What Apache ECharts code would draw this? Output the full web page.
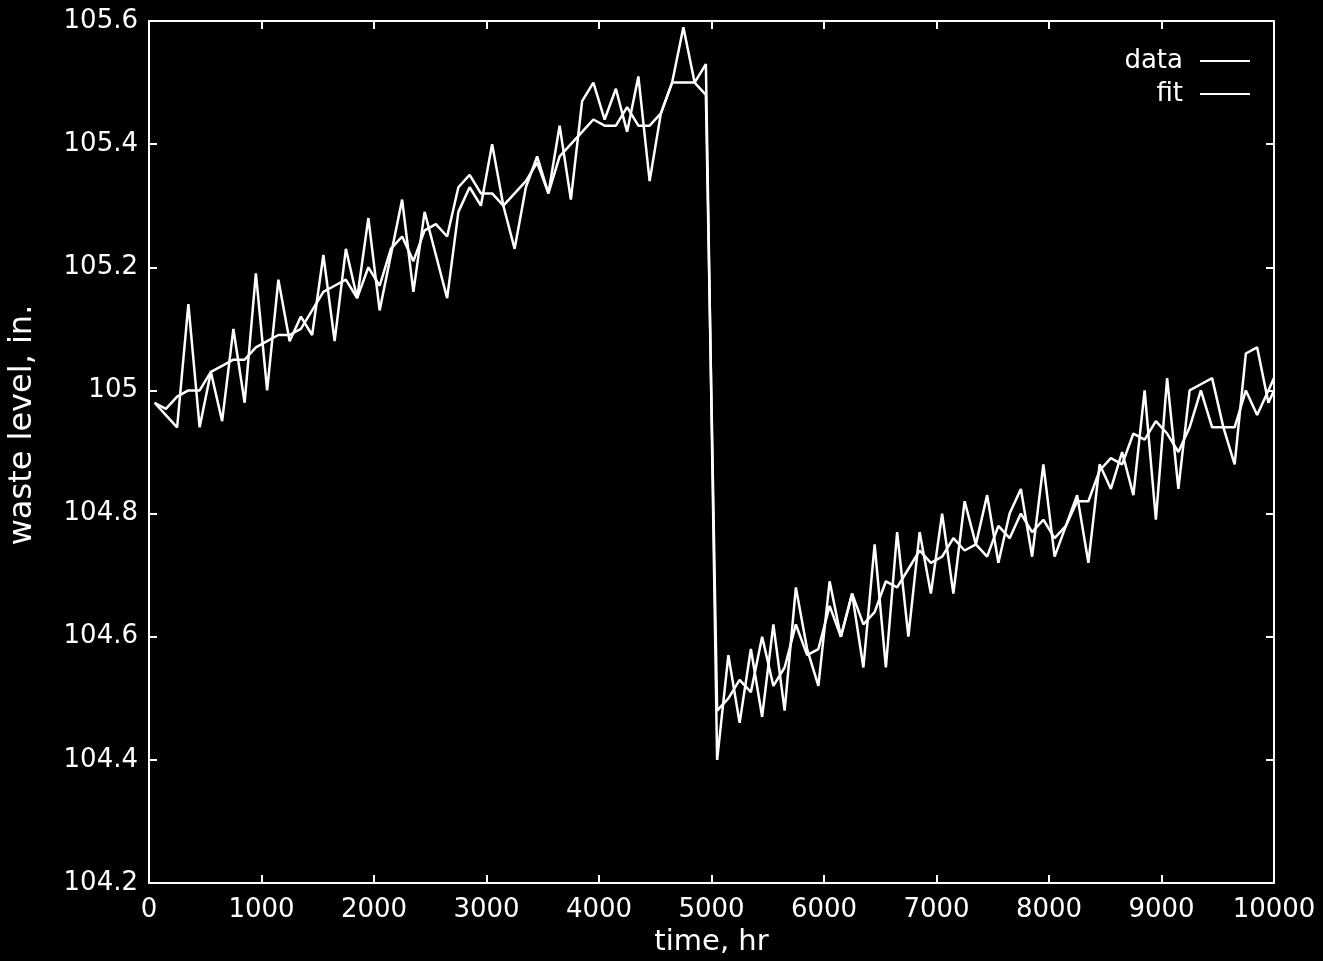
<!DOCTYPE html>
<html>
<head>
<meta charset="utf-8">
<script src="https://cdn.jsdelivr.net/npm/echarts@6/dist/echarts.min.js"></script>
<style>
html,body{margin:0;padding:0;background:#000;}
#chart{width:1323px;height:961px;}
</style>
</head>
<body>
<div id="chart"></div>
<script>
var timeHr = [50,150,250,350,450,550,650,750,850,950,1050,1150,1250,1350,1450,1550,1650,1750,1850,1950,
2050,2150,2250,2350,2450,2550,2650,2750,2850,2950,3050,3150,3250,3350,3450,3550,3650,3750,3850,3950,
4050,4150,4250,4350,4450,4550,4650,4750,4850,4950,5050,5150,5250,5350,5450,5550,5650,5750,5850,5950,
6050,6150,6250,6350,6450,6550,6650,6750,6850,6950,7050,7150,7250,7350,7450,7550,7650,7750,7850,7950,
8050,8150,8250,8350,8450,8550,8650,8750,8850,8950,9050,9150,9250,9350,9450,9550,9650,9750,9850,9950,10000];

var dataLevel = [104.98,104.96,104.94,105.14,104.94,105.03,104.95,105.10,104.98,105.19,
105.00,105.18,105.08,105.12,105.09,105.22,105.08,105.23,105.15,105.28,
105.13,105.22,105.31,105.16,105.29,105.22,105.15,105.29,105.33,105.30,
105.40,105.30,105.23,105.33,105.38,105.32,105.43,105.31,105.47,105.50,
105.44,105.49,105.42,105.51,105.34,105.45,105.50,105.59,105.50,105.53,
104.40,104.57,104.46,104.58,104.47,104.62,104.48,104.68,104.58,104.52,
104.69,104.60,104.67,104.55,104.75,104.55,104.77,104.60,104.77,104.67,
104.80,104.67,104.82,104.75,104.83,104.72,104.80,104.84,104.73,104.88,
104.73,104.78,104.83,104.72,104.88,104.84,104.90,104.83,105.00,104.79,
105.02,104.84,105.00,105.01,105.02,104.94,104.88,105.06,105.07,104.98,105.00];

var fitLevel = [104.98,104.97,104.99,105.00,105.00,105.03,105.04,105.05,105.05,105.07,
105.08,105.09,105.09,105.10,105.13,105.16,105.17,105.18,105.15,105.20,
105.17,105.23,105.25,105.21,105.26,105.27,105.25,105.33,105.35,105.32,
105.32,105.30,105.32,105.34,105.37,105.32,105.38,105.40,105.42,105.44,
105.43,105.43,105.46,105.43,105.43,105.45,105.50,105.50,105.50,105.48,
104.48,104.50,104.53,104.51,104.60,104.52,104.55,104.62,104.57,104.58,
104.65,104.60,104.67,104.62,104.64,104.69,104.68,104.71,104.74,104.72,
104.73,104.76,104.74,104.75,104.73,104.78,104.76,104.80,104.77,104.79,
104.76,104.78,104.82,104.82,104.87,104.89,104.88,104.93,104.92,104.95,
104.93,104.90,104.94,105.00,104.94,104.94,104.94,105.00,104.96,105.00,105.02];

var xTicks = {min: 0, max: 10000, interval: 1000};
var yTicks = {min: 104.2, max: 105.6, interval: 0.2};

function pairs(t, v) { return t.map(function (x, i) { return [x, v[i]]; }); }

var FONT = 'DejaVu Sans';
var chart = echarts.init(document.getElementById('chart'));
var axisCommon = {
  axisLine: {show: true, onZero: false, lineStyle: {color: '#fff', width: 2}},
  axisTick: {show: true, inside: true, length: 8, lineStyle: {color: '#fff', width: 2}},
  splitLine: {show: false}
};
chart.setOption({
  backgroundColor: '#000',
  animation: false,
  grid: {left: 149, right: 49, top: 21, bottom: 78, containLabel: false, outerBoundsMode: 'none'},
  legend: {
    orient: 'vertical', right: 68, top: 43, align: 'right',
    icon: 'rect', itemWidth: 50, itemHeight: 2, itemGap: 7,
    textStyle: {color: '#fff', fontSize: 26, fontFamily: FONT, padding: [0, 12, 0, 0]},
    data: ['data', 'fit']
  },
  xAxis: [
    Object.assign({type: 'value', position: 'bottom', min: xTicks.min, max: xTicks.max, interval: xTicks.interval,
      name: 'time, hr', nameLocation: 'middle', nameGap: 45,
      nameTextStyle: {color: '#fff', fontSize: 29, fontFamily: FONT},
      axisLabel: {color: '#fff', fontSize: 26, fontFamily: FONT, margin: 14,
        formatter: function (v) { return String(v); }}}, axisCommon),
    Object.assign({type: 'value', position: 'top', min: xTicks.min, max: xTicks.max, interval: xTicks.interval,
      axisLabel: {show: false}}, axisCommon)
  ],
  yAxis: [
    Object.assign({type: 'value', position: 'left', min: yTicks.min, max: yTicks.max, interval: yTicks.interval,
      name: 'waste level, in.', nameLocation: 'middle', nameGap: 110, nameRotate: 90,
      nameTextStyle: {color: '#fff', fontSize: 32, fontFamily: FONT, padding: [0, 0, 0, 54]},
      axisLabel: {color: '#fff', fontSize: 26, fontFamily: FONT, margin: 11,
        formatter: function (v) { return String(Math.round(v * 10) / 10); }}}, axisCommon),
    Object.assign({type: 'value', position: 'right', min: yTicks.min, max: yTicks.max, interval: yTicks.interval,
      axisLabel: {show: false}}, axisCommon)
  ],
  series: [
    {name: 'data', type: 'line', data: pairs(timeHr, dataLevel), showSymbol: false, symbol: 'none',
      itemStyle: {color: '#fff'}, lineStyle: {color: '#fff', width: 2.5}},
    {name: 'fit', type: 'line', data: pairs(timeHr, fitLevel), showSymbol: false, symbol: 'none',
      itemStyle: {color: '#fff'}, lineStyle: {color: '#fff', width: 2.5}}
  ]
});
</script>
</body>
</html>
